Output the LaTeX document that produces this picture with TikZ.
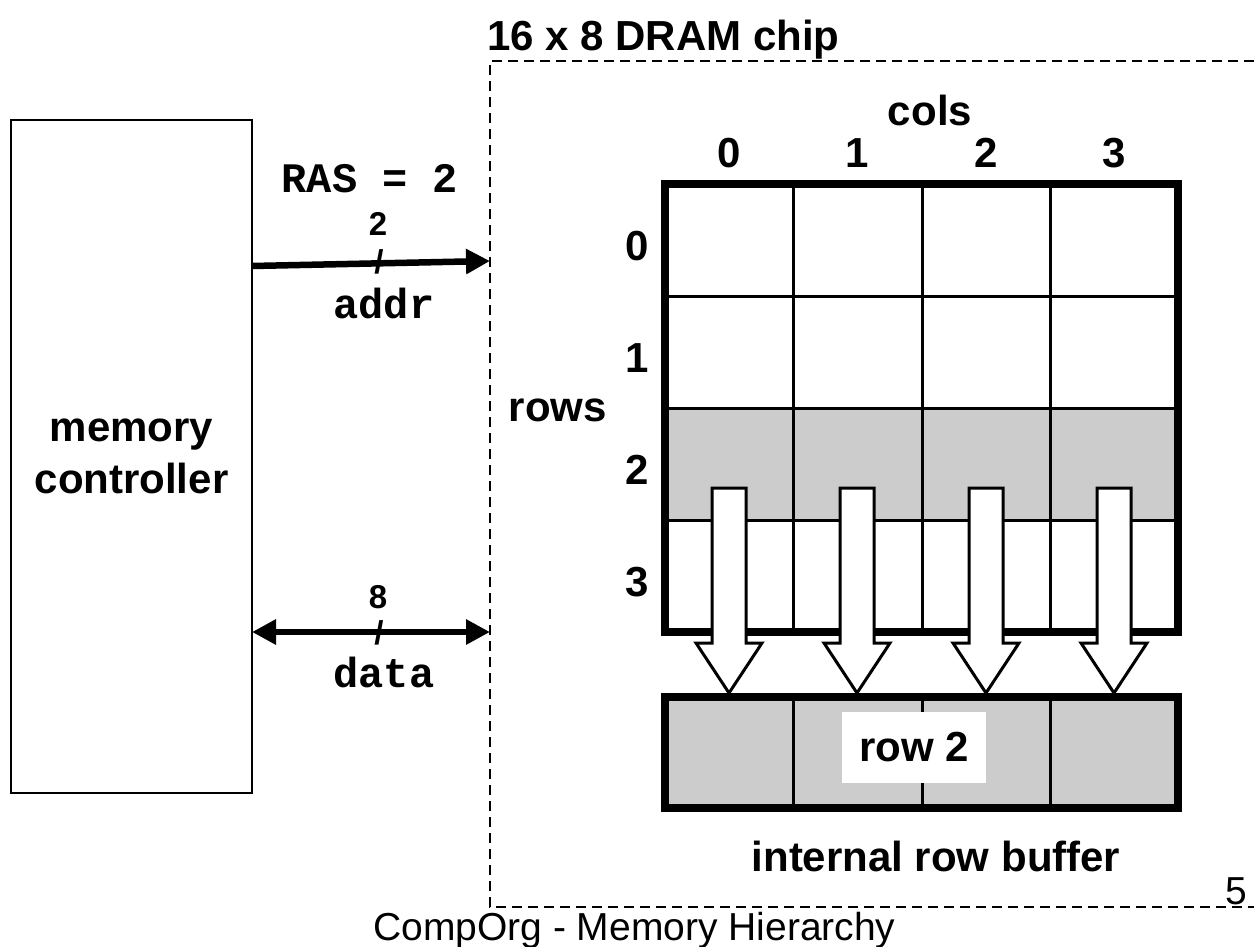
\documentclass[tikz,border=0pt]{standalone}
\usepackage{fontspec}
\setmainfont{Liberation Sans}
\setmonofont{Liberation Mono}
\usetikzlibrary{arrows.meta}
\definecolor{cellgray}{HTML}{CCCCCC}
\begin{document}
\begin{tikzpicture}[x=1pt,y=-1pt,
  >={Triangle[length=24pt,width=24pt]},
  lbl/.style={font=\fontsize{42}{52}\selectfont\bfseries, inner sep=0pt},
  small/.style={font=\fontsize{33}{36}\selectfont\bfseries, inner sep=0pt},
  mono/.style={font=\fontsize{42}{50}\selectfont\ttfamily\bfseries, inner sep=0pt},
  plain/.style={font=\fontsize{39}{44}\selectfont, inner sep=0pt},
  thin/.style={line width=3pt},
  thick8/.style={line width=8pt},
  bus/.style={line width=6.5pt},
  blockarrow/.style={fill=white, draw=black, line width=3pt, line join=miter},
  chipborder/.style={line width=2.5pt, dash pattern=on 10pt off 6pt}
]
\useasboundingbox (0,0) rectangle (1254,946);

% memory controller
\node[draw, line width=2.5pt, inner sep=0pt, minimum width=241pt, minimum height=673pt,
      lbl, align=center] (mc) at (131.5,456.5) {memory\\controller};

% chip border (dashed)
\coordinate (chipTR) at (1254,61);
\coordinate (chipTL) at (490,61);
\coordinate (chipBL) at (490,907);
\coordinate (chipBR) at (1254,907);
\draw[chipborder] (chipTR) -- (chipTL) -- (chipBL) -- (chipBR);
\node[lbl, anchor=base west] (title) at (487,50) {16 x 8 DRAM chip};

% address bus
\coordinate (addrL) at (252,266);
\coordinate (addrR) at (490,261);
\draw[bus, ->] (addrL) -- (addrR);
\node[mono, anchor=base] (ras) at (370,192) {RAS = 2};
\node[small] (two) at (378,224) {2};
\node[small] (slashA) at (379,262) {/};
\node[mono, anchor=base] (addr) at (384,318) {addr};

% data bus
\coordinate (dataL) at (252,632);
\coordinate (dataR) at (490,632);
\draw[bus, <->] (dataL) -- (dataR);
\node[small] (eight) at (378,597) {8};
\node[small] (slashD) at (379,633) {/};
\node[mono, anchor=base] (data) at (384,687) {data};

% cell array
\fill[cellgray] (665,408) rectangle (1178,520);
\foreach \x in {793,922,1050} \draw[thin] (\x,184) -- (\x,632);
\foreach \y in {296,408,520} \draw[thin] (665,\y) -- (1178,\y);
\node[draw, thick8, inner sep=0pt, minimum width=513pt, minimum height=448pt] (grid) at (921.5,408) {};

% labels
\node[lbl, anchor=base] (cols) at (930,125) {cols};
\node[lbl, anchor=base] (c0) at (729,167) {0};
\node[lbl, anchor=base] (c1) at (857,167) {1};
\node[lbl, anchor=base] (c2) at (986,167) {2};
\node[lbl, anchor=base] (c3) at (1114,167) {3};
\node[lbl, anchor=base] (rows) at (558,421) {rows};
\node[lbl, anchor=base] (r0) at (637,260) {0};
\node[lbl, anchor=base] (r1) at (637,372) {1};
\node[lbl, anchor=base] (r2) at (637,484) {2};
\node[lbl, anchor=base] (r3) at (637,596) {3};

% row buffer
\fill[cellgray] (665,697) rectangle (1178,808);
\foreach \x in {793,922,1050} \draw[thin] (\x,697) -- (\x,808);
\node[draw, thick8, inner sep=0pt, minimum width=513pt, minimum height=111pt] (buf) at (921.5,752.5) {};
\node[lbl, fill=white, minimum width=144pt, minimum height=71pt] (row2) at (914,747.5) {row 2};
\node[lbl, anchor=base] (bufl) at (936,871) {internal row buffer};

% block arrows
\foreach \cx in {729,857,986,1114} {
  \draw[blockarrow] (\cx-17,488) -- (\cx+17,488) -- (\cx+17,643) -- (\cx+33,643)
     -- (\cx,693) -- (\cx-33,643) -- (\cx-17,643) -- cycle;
}

% footer
\node[plain, anchor=base] (pg) at (1236,904) {5};
\node[plain, anchor=base west] (foot) at (373,940) {CompOrg - Memory Hierarchy};
\end{tikzpicture}
\end{document}
